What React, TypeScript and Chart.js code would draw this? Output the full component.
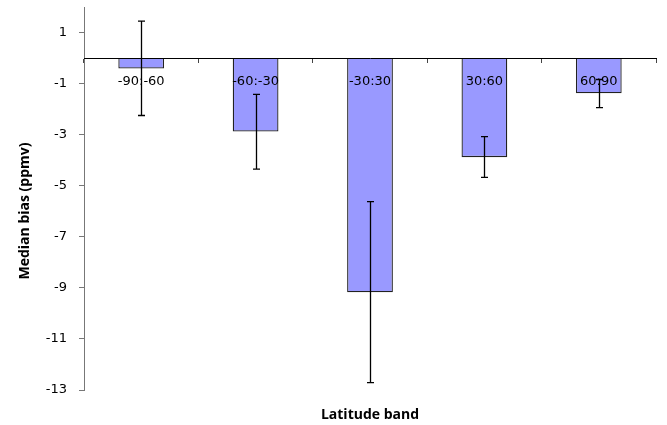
import React, { useEffect, useRef } from "react";
import { Chart, registerables } from "chart.js";

Chart.register(...registerables);

const categories: string[] = ["-90:-60", "-60:-30", "-30:30", "30:60", "60:90"];
const medianBias: number[] = [-0.41, -2.88, -9.17, -3.88, -1.38];
const errHigh: number[] = [1.45, -1.42, -5.62, -3.08, -0.84];
const errLow: number[] = [-2.25, -4.35, -12.71, -4.67, -1.94];
const yTickValues: number[] = [1, -1, -3, -5, -7, -9, -11, -13];
const yMin = -13;
const yMax = 2;
const xTitle = "Latitude band";
const yTitle = "Median bias (ppmv)";

const errorBarPlugin = {
  id: "errorBars",
  afterDraw(chart: any) {
    const meta = chart.getDatasetMeta(0);
    const y = chart.scales.y;
    const ctx = chart.ctx;
    ctx.save();
    ctx.strokeStyle = "#000";
    ctx.lineWidth = 1.3;
    meta.data.forEach((bar: any, i: number) => {
      const x = Math.round(bar.x) + 0.5;
      const y1 = y.getPixelForValue(errHigh[i]);
      const y2 = y.getPixelForValue(errLow[i]);
      ctx.beginPath();
      ctx.moveTo(x, y1);
      ctx.lineTo(x, y2);
      ctx.moveTo(x - 3.5, y1);
      ctx.lineTo(x + 3.5, y1);
      ctx.moveTo(x - 3.5, y2);
      ctx.lineTo(x + 3.5, y2);
      ctx.stroke();
    });
    ctx.restore();
  },
};

const yTitlePlugin = {
  id: "yTitle",
  afterDraw(chart: any) {
    const ctx = chart.ctx;
    ctx.save();
    ctx.translate(25, 211);
    ctx.rotate(-Math.PI / 2);
    ctx.font = "bold 14px 'Open Sans'";
    ctx.fillStyle = "#000";
    ctx.textAlign = "center";
    ctx.textBaseline = "middle";
    ctx.fillText(yTitle, 0, 0);
    ctx.restore();
  },
};

export default function App() {
  const ref = useRef<HTMLCanvasElement | null>(null);
  useEffect(() => {
    if (!ref.current) return;
    const chart = new Chart(ref.current, {
      type: "bar",
      data: {
        labels: categories,
        datasets: [
          {
            data: medianBias,
            backgroundColor: "#9999ff",
            borderColor: "#222222",
            borderWidth: 1.3,
            barPercentage: 0.4,
            categoryPercentage: 1,
            xAxisID: "x",
            yAxisID: "y",
          },
        ],
      },
      plugins: [errorBarPlugin, yTitlePlugin],
      options: {
        responsive: false,
        animation: false,
        layout: { padding: { top: 7, right: 11, left: 0, bottom: 0 } },
        plugins: { legend: { display: false }, tooltip: { enabled: false } },
        scales: {
          x: {
            type: "category",
            position: "bottom",
            offset: true,
            grid: { display: false },
            border: { display: false },
            ticks: { display: false },
            title: {
              display: true,
              text: xTitle,
              font: { family: "'Open Sans'", size: 14, weight: "bold" },
              color: "#000",
              padding: { top: 0, bottom: 2 },
            },
            afterFit: (s: any) => {
              s.height = 35;
              s.paddingLeft = 0;
              s.paddingRight = 0;
            },
          },
          x2: {
            type: "category",
            position: { y: 0 } as any,
            offset: true,
            grid: {
              display: true,
              offset: true,
              drawOnChartArea: false,
              drawTicks: true,
              tickLength: 4,
              color: "#444",
              z: 1,
            },
            border: { display: true, color: "#000", width: 1, z: 1 },
            ticks: {
              color: "#000",
              font: { family: "'DejaVu Sans'", size: 13 },
              padding: 12,
              maxRotation: 0,
              autoSkip: false,
              z: 1,
            },
            afterFit: (s: any) => {
              s.paddingLeft = 0;
              s.paddingRight = 0;
              s.paddingTop = 0;
              s.paddingBottom = 0;
            },
          },
          y: {
            type: "linear",
            min: yMin,
            max: yMax,
            afterBuildTicks: (s: any) => {
              s.ticks = yTickValues.map((v) => ({ value: v }));
            },
            afterFit: (s: any) => {
              s.width = 84;
              s.paddingTop = 0;
              s.paddingBottom = 0;
            },
            grid: {
              display: true,
              drawOnChartArea: false,
              drawTicks: true,
              tickLength: 5,
              color: "#777",
            },
            border: { display: true, color: "#777", width: 1 },
            ticks: {
              color: "#000",
              font: { family: "'DejaVu Sans'", size: 13 },
              padding: 12,
            },
          },
        },
      },
    });
    return () => chart.destroy();
  }, []);
  return (
    <div style={{ position: "absolute", left: 0, top: 0, width: 667, height: 425 }}>
      <canvas ref={ref} width={667} height={425} style={{ display: "block" }} />
    </div>
  );
}
